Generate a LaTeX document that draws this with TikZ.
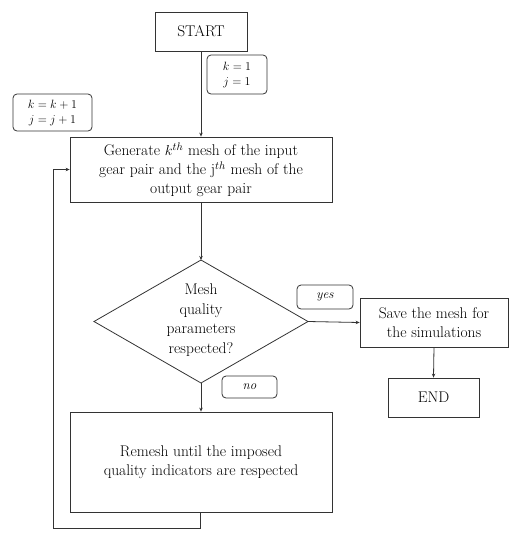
\documentclass[tikz,border=0pt]{standalone}
\usepackage{fontspec}
\usetikzlibrary{arrows.meta}
\begin{document}
\begin{tikzpicture}[x=1pt,y=-1pt,
  line/.style={draw=black!80, line width=0.8pt},
  arr/.style={line, -{Stealth[length=4pt,width=3.5pt]}},
  boxn/.style={draw=black!80, line width=0.8pt, rectangle, inner sep=0pt, align=center, font=\fontsize{15.5}{19}\selectfont},
  lab/.style={draw=black!80, line width=0.8pt, rectangle, rounded corners=4pt, inner sep=0pt, align=center, font=\fontsize{13}{15}\selectfont}
]
\useasboundingbox (0,0) rectangle (525,550);
\node[boxn, minimum width=92pt, minimum height=39pt] (start) at (201,31.5) {START};
\node[lab, minimum width=60pt, minimum height=39pt] (l1) at (237,74.5) {$k=1$\\$j=1$};
\node[lab, minimum width=79pt, minimum height=37pt] (l2) at (52.5,112.5) {$k=k+1$\\$j=j+1$};
\node[boxn, minimum width=262pt, minimum height=65pt] (gen) at (201,169.5) {Generate $k^{th}$ mesh of the input\\gear pair and the j$^{th}$ mesh of the\\output gear pair};
\coordinate (dT) at (201,260);
\coordinate (dB) at (201,383);
\coordinate (dL) at (94,321.5);
\coordinate (dR) at (308,321.5);
\draw[line] (dT) -- (dR) -- (dB) -- (dL) -- cycle;
\node[align=center, font=\fontsize{15.5}{19.5}\selectfont, inner sep=0pt] (dia) at (201,320) {Mesh\\quality\\parameters\\respected?};
\node[lab, minimum width=56pt, minimum height=24pt] (yes) at (325,297) {$\mathit{yes}$};
\node[boxn, minimum width=148pt, minimum height=49pt] (save) at (434,322.5) {Save the mesh for\\the simulations};
\node[boxn, minimum width=91pt, minimum height=39pt] (end) at (433.5,397.5) {END};
\node[lab, minimum width=55pt, minimum height=22pt] (no) at (249.5,387) {$\mathit{no}$};
\node[boxn, minimum width=262pt, minimum height=100pt] (rem) at (201,462) {Remesh until the imposed\\quality indicators are respected};
\coordinate (c1) at (200,528);
\coordinate (c2) at (53,528);
\coordinate (c3) at (53,169.5);
\draw[arr] (start.south) -- (gen.north);
\draw[arr] (gen.south) -- (dT);
\draw[arr] (dR) -- (save.west);
\draw[arr] (save.south) -- (end.north);
\draw[arr] (dB) -- (rem.north);
\draw[arr] (rem.south -| c1) -- (c1) -- (c2) -- (c3) -- (gen.west);
\end{tikzpicture}
\end{document}
